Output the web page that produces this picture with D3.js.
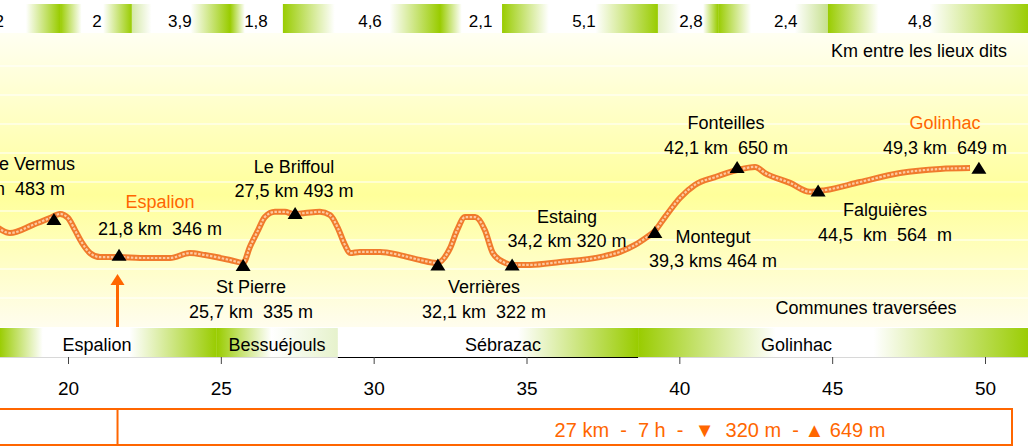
<!DOCTYPE html>
<html>
<head>
<meta charset="utf-8">
<script src="https://cdn.jsdelivr.net/npm/d3@7"></script>
<style>
  body { margin: 0; background: #fff; }
  svg { display: block; font-family: "Liberation Sans", Arial, sans-serif; }
  text { white-space: pre; }
</style>
</head>
<body>
<div id="chart"></div>
<script>
// ---------- data ----------
// elevation profile (km, m)
const profileKm = [17.7, 18.1, 18.85, 19.41, 19.74, 20.0, 20.23, 20.46, 20.72, 21.05, 21.67, 22.36, 23.34, 23.99, 24.48, 25.3, 25.73,
  25.95, 26.22, 26.44, 26.77, 27.1, 27.36, 27.75, 28.24, 28.57, 28.83, 29.06, 29.23, 29.55, 30.21, 30.86, 31.52, 32.07,
  32.5, 32.73, 32.99, 33.32, 33.64, 33.9, 34.3, 34.53, 35.11, 36.1, 37.4, 38.06, 38.55, 38.94, 39.17, 39.53, 40.02, 40.51,
  41.17, 41.89, 42.48, 42.8, 43.62, 44.27, 44.77, 45.91, 47.22, 48.53, 49.51];
const profileElev = [443, 424, 452, 476, 490, 476, 434, 390, 355, 341, 341, 338, 338, 355, 348, 331, 321,
  376, 434, 479, 497, 497, 490, 493, 497, 486, 441, 383, 355, 359, 359, 348, 331, 321,
  372, 434, 479, 479, 434, 355, 321, 314, 314, 324, 341, 359, 383, 410, 428, 479, 545, 590,
  617, 641, 652, 631, 597, 566, 572, 600, 631, 645, 648];

// lieux dits (triangle markers)
const placeNames = ["Le Vermus", "Espalion", "St Pierre", "Le Briffoul", "Verrières", "Estaing", "Montegut", "Fonteilles", "Falguières", "Golinhac"];
const placeInfo = ["19,8 km  483 m", "21,8 km  346 m", "25,7 km  335 m", "27,5 km 493 m", "32,1 km  322 m", "34,2 km 320 m",
  "39,3 kms 464 m", "42,1 km  650 m", "44,5  km  564  m", "49,3 km  649 m"];
const placeKm = [19.54, 21.67, 25.73, 27.43, 32.1, 34.53, 39.2, 41.89, 44.54, 49.8];
const placeElev = [471, 347, 312, 491, 314, 314, 426, 650, 569, 647];
const placeHighlight = [false, true, false, false, false, false, false, false, false, true];

// km between lieux dits (top band)
const legBreaks = [15.75, 19.74, 22.09, 25.3, 27.03, 32.17, 34.2, 39.3, 41.27, 44.86, 51.5];
const legLabels = ["2", "2", "3,9", "1,8", "4,6", "2,1", "5,1", "2,8", "2,4", "4,8"];
const legLabelKm = [17.75, 20.95, 23.66, 26.15, 29.88, 33.5, 36.88, 40.38, 43.48, 47.87];

// communes (bottom band)
const communeBreaks = [17.75, 24.87, 28.83, 38.65, 51.5];
const communeNames = ["Espalion", "Bessuéjouls", "Sébrazac", "Golinhac"];
const communeLabelKm = [20.95, 26.84, 34.23, 43.83];

const xTicks = [20, 25, 30, 35, 40, 45, 50];
const gridElev = [200, 300, 400, 500, 600, 700, 800, 900, 1000];
const summary = "27 km  -  7 h  -  ▼  320 m  - ▲ 649 m";
const startKm = 21.62;

// ---------- setup ----------
const width = 1028, height = 446;
const green = "#99cc00", orange = "#ff6600", white = "#fff";

const svg = d3.select("#chart").append("svg")
  .attr("width", width).attr("height", height);
const defs = svg.append("defs");

const x = d3.scaleLinear().domain([20, 50]).range([68, 985]);
const y = d3.scaleLinear().domain([100, 1000]).range([327, 66]);

// plot background
const bg = defs.append("linearGradient").attr("id", "bg")
  .attr("x1", 0).attr("x2", 0).attr("y1", 0).attr("y2", 1);
bg.append("stop").attr("offset", 0).attr("stop-color", "#fffff2");
bg.append("stop").attr("offset", 0.55).attr("stop-color", "#ffff9a");
bg.append("stop").attr("offset", 1).attr("stop-color", "#fffdee");

svg.append("rect")
  .attr("x", 0).attr("y", 33).attr("width", width).attr("height", 327 - 33)
  .attr("fill", "url(#bg)");

// gridlines
svg.append("g").selectAll("line").data(gridElev).join("line")
  .attr("x1", 0).attr("x2", width)
  .attr("y1", (d) => y(d)).attr("y2", (d) => y(d))
  .attr("stroke", "#fff").attr("stroke-width", 1.2);

// band gradient helper
function bandGradient(id, stops) {
  const g = defs.append("linearGradient").attr("id", id)
    .attr("x1", 0).attr("x2", 1).attr("y1", 0).attr("y2", 0);
  stops.forEach(([o, c]) => g.append("stop").attr("offset", o).attr("stop-color", c));
}

// top band
const legStops = [
  [[0, white], [0.72, white], [1, green]],
  [[0, green], [0.3, white], [0.6, white], [1, green]],
  [[0, "#d4e8a6"], [0.2, white], [0.6, white], [1, green]],
  [[0, green], [0.28, white], [1, white]],
  [[0, green], [0.33, white], [0.68, white], [1, green]],
  [[0, green], [0.35, white], [1, white]],
  [[0, green], [0.3, white], [0.6, white], [1, green]],
  [[0, "#e3f0c4"], [0.35, white], [0.75, white], [1, green]],
  [[0, green], [0.3, white], [0.7, white], [1, "#c6e08e"]],
  [[0, green], [0.25, white], [0.5, white], [1, green]]
];
const topBand = svg.append("g");
legLabels.forEach((lab, i) => {
  bandGradient("leg" + i, legStops[i]);
  const x0 = x(legBreaks[i]), x1 = x(legBreaks[i + 1]);
  topBand.append("rect")
    .attr("x", x0).attr("y", 4).attr("width", x1 - x0).attr("height", 29)
    .attr("fill", `url(#leg${i})`);
  topBand.append("text")
    .attr("x", x(legLabelKm[i])).attr("y", 27)
    .attr("text-anchor", "middle").attr("font-size", 17)
    .text(lab);
});

svg.append("text")
  .attr("x", 1007).attr("y", 57).attr("text-anchor", "end")
  .attr("font-size", 18).text("Km entre les lieux dits");

// communes band
const communeStops = [
  [[0, green], [0.2, white], [0.6, white], [1, green]],
  [[0, green], [0.45, white], [1, "#e6f2cc"]],
  [[0, white], [0.6, white], [1, green]],
  [[0, green], [0.35, white], [0.6, white], [1, green]]
];
const bottomBand = svg.append("g");
communeNames.forEach((name, i) => {
  bandGradient("com" + i, communeStops[i]);
  const x0 = x(communeBreaks[i]), x1 = x(communeBreaks[i + 1]);
  bottomBand.append("rect")
    .attr("x", x0).attr("y", 328).attr("width", x1 - x0).attr("height", 29)
    .attr("fill", `url(#com${i})`);
  bottomBand.append("text")
    .attr("x", x(communeLabelKm[i])).attr("y", 351)
    .attr("text-anchor", "middle").attr("font-size", 18)
    .text(name);
});
// axis baseline + black rule under Sébrazac
bottomBand.append("line")
  .attr("x1", 0).attr("x2", width)
  .attr("y1", 357.5).attr("y2", 357.5).attr("stroke", "#d8d8d8");
bottomBand.append("line")
  .attr("x1", x(communeBreaks[2])).attr("x2", x(communeBreaks[3]))
  .attr("y1", 357.5).attr("y2", 357.5).attr("stroke", "#000");

svg.append("text")
  .attr("x", 866).attr("y", 314).attr("text-anchor", "middle")
  .attr("font-size", 18).text("Communes traversées");

// x axis
const xAxis = d3.axisBottom(x).tickValues(xTicks).tickSize(7).tickPadding(18);
const ax = svg.append("g").attr("transform", "translate(0,357)").call(xAxis);
ax.select(".domain").remove();
ax.selectAll(".tick line").attr("stroke", "#444");
ax.selectAll(".tick text").attr("font-size", 19).attr("font-family", "Liberation Sans, Arial, sans-serif").attr("fill", "#000");

// profile line
const line = d3.line()
  .curve(d3.curveMonotoneX)
  .x((d, i) => x(profileKm[i]))
  .y((d) => y(d));

svg.append("path")
  .datum(profileElev)
  .attr("fill", "none").attr("stroke", "#f07a2c").attr("stroke-width", 6)
  .attr("stroke-linejoin", "round")
  .attr("d", line);
svg.append("path")
  .datum(profileElev)
  .attr("fill", "none").attr("stroke", "#fcc9a0").attr("stroke-width", 2.2)
  .attr("stroke-dasharray", "2.5,1.5")
  .attr("d", line);

// markers
const tri = "M0,-6.5L7.5,5.5L-7.5,5.5Z";
svg.append("g").selectAll("path").data(placeKm).join("path")
  .attr("transform", (d, i) => `translate(${x(d)},${y(placeElev[i])})`)
  .attr("d", tri).attr("fill", "#000");

// marker labels: [x, baseline1, baseline2, anchor]
const labelPos = [
  [75, 170, 195, "end"], [160, 208, 235, "middle"], [251, 293, 318, "middle"], [294, 173, 197, "middle"],
  [484, 293, 318, "middle"], [567, 223, 247, "middle"], [713, 243, 267, "middle"], [726, 129, 154, "middle"],
  [885, 216, 241, "middle"], [945, 129, 154, "middle"]
];
const labels = svg.append("g").attr("font-size", 18);
placeNames.forEach((name, i) => {
  const [lx, b1, b2, anchor] = labelPos[i];
  labels.append("text")
    .attr("x", lx).attr("y", b1).attr("text-anchor", anchor)
    .attr("fill", placeHighlight[i] ? orange : "#000")
    .text(name);
  labels.append("text")
    .attr("x", anchor === "end" ? lx - 10 : lx).attr("y", b2).attr("text-anchor", anchor)
    .text(placeInfo[i]);
});

// start arrow
const sx = x(startKm);
svg.append("line")
  .attr("x1", sx).attr("x2", sx).attr("y1", 282).attr("y2", 327)
  .attr("stroke", orange).attr("stroke-width", 3);
svg.append("path")
  .attr("d", `M${sx},274L${sx + 7},285L${sx - 7},285Z`)
  .attr("fill", orange);

// summary box
svg.append("rect")
  .attr("x", -2).attr("y", 409).attr("width", 1014).attr("height", 36)
  .attr("fill", "#fff").attr("stroke", orange).attr("stroke-width", 2);
svg.append("line")
  .attr("x1", sx).attr("x2", sx).attr("y1", 409).attr("y2", 445)
  .attr("stroke", orange).attr("stroke-width", 2);
svg.append("text")
  .attr("x", 720).attr("y", 437).attr("text-anchor", "middle")
  .attr("font-size", 20).attr("fill", orange)
  .text(summary);
</script>
</body>
</html>
